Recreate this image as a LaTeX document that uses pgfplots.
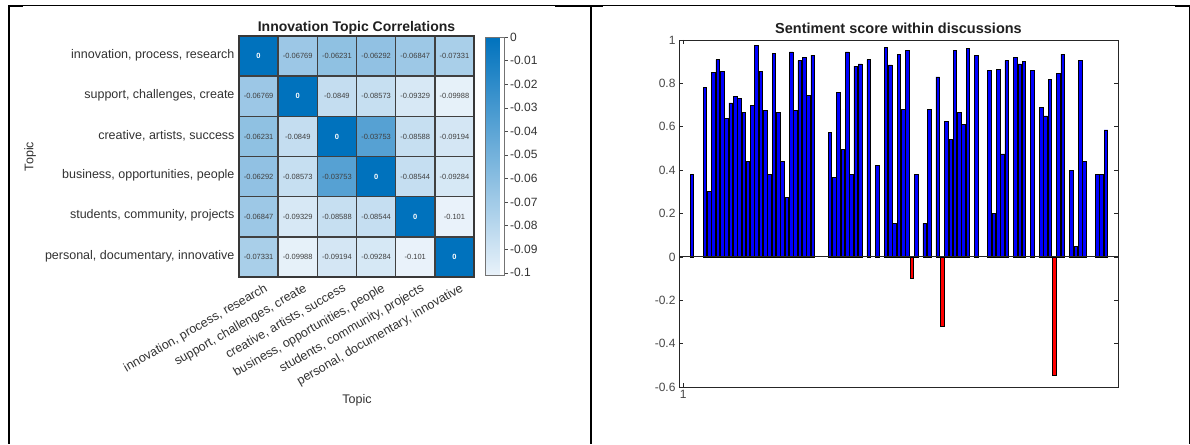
\documentclass[border=0pt]{standalone}
\usepackage{fontspec}
\setmainfont{Liberation Sans}
\usepackage{pgfplots}
\usepackage{pgfplotstable}
\pgfplotsset{compat=1.18}
\definecolor{axgray}{RGB}{38,38,38}
\definecolor{txtgray}{RGB}{50,50,50}

\pgfplotstableread{
x y v
0 0 0
1 0 -0.06769
2 0 -0.06231
3 0 -0.06292
4 0 -0.06847
5 0 -0.07331
0 1 -0.06769
1 1 0
2 1 -0.0849
3 1 -0.08573
4 1 -0.09329
5 1 -0.09988
0 2 -0.06231
1 2 -0.0849
2 2 0
3 2 -0.03753
4 2 -0.08588
5 2 -0.09194
0 3 -0.06292
1 3 -0.08573
2 3 -0.03753
3 3 0
4 3 -0.08544
5 3 -0.09284
0 4 -0.06847
1 4 -0.09329
2 4 -0.08588
3 4 -0.08544
4 4 0
5 4 -0.101
0 5 -0.07331
1 5 -0.09988
2 5 -0.09194
3 5 -0.09284
4 5 -0.101
5 5 0
}\hmdata

\pgfplotstableread{
x y lab
1 0 -0.06769
2 0 -0.06231
3 0 -0.06292
4 0 -0.06847
5 0 -0.07331
0 1 -0.06769
2 1 -0.0849
3 1 -0.08573
4 1 -0.09329
5 1 -0.09988
0 2 -0.06231
1 2 -0.0849
3 2 -0.03753
4 2 -0.08588
5 2 -0.09194
0 3 -0.06292
1 3 -0.08573
2 3 -0.03753
4 3 -0.08544
5 3 -0.09284
0 4 -0.06847
1 4 -0.09329
2 4 -0.08588
3 4 -0.08544
5 4 -0.101
0 5 -0.07331
1 5 -0.09988
2 5 -0.09194
3 5 -0.09284
4 5 -0.101
}\hmlab

\pgfplotstableread{
x y lab
0 0 0
1 1 0
2 2 0
3 3 0
4 4 0
5 5 0
}\hmdiag

\pgfplotstableread{
x y
3 0.38
6 0.78
7 0.30
8 0.85
9 0.91
10 0.855
11 0.64
12 0.71
13 0.74
14 0.73
15 0.665
16 0.44
17 0.70
18 0.975
19 0.855
20 0.675
21 0.38
22 0.94
23 0.665
24 0.44
25 0.275
26 0.945
27 0.675
28 0.905
29 0.92
30 0.745
31 0.93
35 0.575
36 0.365
37 0.76
38 0.495
39 0.945
40 0.38
41 0.88
42 0.89
44 0.91
46 0.42
48 0.965
49 0.885
50 0.155
51 0.935
52 0.68
53 0.95
55 0.38
57 0.155
58 0.68
60 0.83
62 0.625
63 0.54
64 0.95
65 0.665
66 0.61
67 0.96
69 0.93
72 0.86
73 0.20
74 0.865
75 0.475
76 0.905
78 0.92
79 0.89
80 0.90
82 0.86
84 0.69
85 0.65
86 0.82
88 0.845
89 0.935
91 0.40
92 0.05
93 0.905
94 0.44
97 0.38
98 0.38
99 0.585
}\posdata

\pgfplotstableread{
x y
54 -0.10
61 -0.32
87 -0.545
}\negdata

\begin{document}
\begin{tikzpicture}[x=1pt,y=1pt]
\useasboundingbox (0,0) rectangle (1190,444);
% table frame
\fill[black] (8,0) rectangle (10,438.5);
\fill[black] (590,0) rectangle (592,438.5);
\fill[black] (1188.5,0) rectangle (1190,438.5);
\fill[black] (8,437.5) rectangle (1190,438.5);
\fill[black] (8,436.5) rectangle (23,438.5);
\fill[black] (555,436.5) rectangle (603,438.5);
\fill[black] (1175,436.5) rectangle (1190,438.5);

% ---------- heatmap ----------
\begin{axis}[
  at={(239pt,167pt)}, anchor=south west,
  scale only axis, width=235pt, height=241pt,
  xmin=-0.5, xmax=5.5, ymin=-0.5, ymax=5.5, y dir=reverse,
  enlargelimits=false,
  xtick={0,1,2,3,4,5}, ytick={0,1,2,3,4,5},
  xticklabels={{innovation, process, research},{support, challenges, create},{creative, artists, success},{business, opportunities, people},{students, community, projects},{personal, documentary, innovative}},
  yticklabels={{innovation, process, research},{support, challenges, create},{creative, artists, success},{business, opportunities, people},{students, community, projects},{personal, documentary, innovative}},
  major tick length=0pt, minor tick length=0pt,
  minor xtick={-0.5,0.5,1.5,2.5,3.5,4.5,5.5},
  minor ytick={-0.5,0.5,1.5,2.5,3.5,4.5,5.5},
  xminorgrids, yminorgrids,
  minor grid style={black!75, line width=1.4pt},
  axis on top,
  axis line style={black!78, line width=1.6pt},
  ticklabel style={font=\fontsize{12.5}{15}\selectfont, text=txtgray},
  xticklabel style={rotate=30, anchor=north east, xshift=5pt, yshift=-4pt},
  yticklabel style={xshift=-1pt, yshift=1pt},
  title=Innovation Topic Correlations,
  title style={font=\bfseries\fontsize{14}{16}\selectfont, text=black!88, at={(0.5,1)}, anchor=south, yshift=-8pt},
  xlabel=Topic, ylabel=Topic,
  every axis x label/.style={at={(axis description cs:0.502,-0.51)}, anchor=center, font=\fontsize{12.5}{15}\selectfont, text=txtgray},
  every axis y label/.style={at={(axis description cs:-0.889,0.5)}, rotate=90, anchor=center, font=\fontsize{12.5}{15}\selectfont, text=txtgray},
  colormap={hm}{rgb255(0cm)=(233,242,250); rgb255(1cm)=(0,114,189)},
  point meta min=-0.101, point meta max=0,
  colorbar,
  colorbar style={
    at={(parent axis.north east)}, anchor=north west, xshift=3pt, yshift=-1pt,
    width=19pt, height=238pt,
    ytick={-0.1,-0.09,-0.08,-0.07,-0.06,-0.05,-0.04,-0.03,-0.02,-0.01,0},
    yticklabels={-0.1,-0.09,-0.08,-0.07,-0.06,-0.05,-0.04,-0.03,-0.02,-0.01,0},
    ytick pos=right, tick align=outside, major tick length=3pt,
    tick style={black!70},
    axis line style={black!55, line width=0.8pt},
    yticklabel style={font=\fontsize{12}{14}\selectfont, text=txtgray, xshift=-1pt},
  },
]
\addplot[matrix plot*, mesh/cols=6, point meta=explicit] table[meta=v] {\hmdata};
\addplot[draw=none, mark=none, nodes near coords, point meta=explicit symbolic,
  nodes near coords align={center},
  every node near coord/.append style={font=\fontsize{7.5}{9}\selectfont, text=black!75, inner sep=0pt}]
  table[meta=lab] {\hmlab};
\addplot[draw=none, mark=none, nodes near coords, point meta=explicit symbolic,
  nodes near coords align={center},
  every node near coord/.append style={font=\bfseries\fontsize{7.5}{9}\selectfont, text=white, inner sep=0pt}]
  table[meta=lab] {\hmdiag};
\end{axis}

% ---------- sentiment bars ----------
\begin{axis}[
  at={(679pt,57pt)}, anchor=south west,
  scale only axis, width=439pt, height=347pt,
  xmin=0, xmax=101.8, ymin=-0.6, ymax=1,
  xtick={1}, xticklabels={1},
  ytick={-0.6,-0.4,-0.2,0,0.2,0.4,0.6,0.8,1},
  yticklabels={-0.6,-0.4,-0.2,0,0.2,0.4,0.6,0.8,1},
  tick align=inside, major tick length=4pt,
  axis line style={axgray, line width=0.8pt},
  tick style={axgray, line width=0.6pt},
  ticklabel style={font=\fontsize{12}{14}\selectfont, text=black!72},
  title=Sentiment score within discussions,
  title style={font=\bfseries\fontsize{14.5}{17}\selectfont, text=black!88, at={(0.5,1)}, anchor=south, yshift=-3pt},
]
\addplot[ybar, bar width=0.85, bar shift=0pt, fill=blue, draw=black, line width=0.7pt] table {\posdata};
\addplot[ybar, bar width=0.85, bar shift=0pt, fill=red, draw=black, line width=0.7pt] table {\negdata};
\draw[axgray, line width=0.8pt] (axis cs:0,0) -- (axis cs:101.8,0);
\end{axis}
\end{tikzpicture}
\end{document}
